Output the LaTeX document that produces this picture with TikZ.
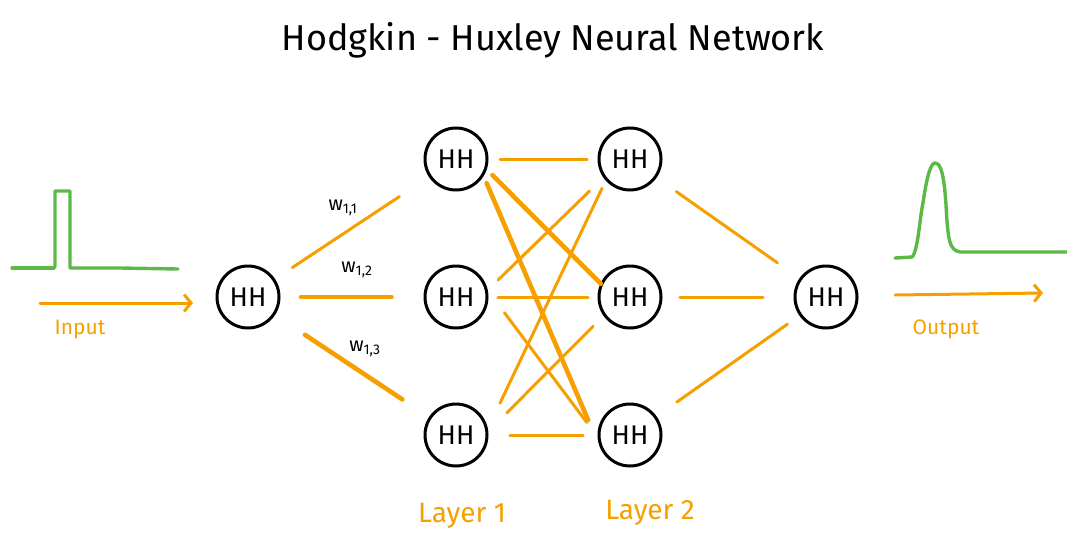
\documentclass[tikz,border=0pt]{standalone}
\usepackage{fontspec}
\setmainfont{Fira Sans}
\usetikzlibrary{calc,arrows.meta}
\definecolor{org}{HTML}{F5A000}
\definecolor{grn}{HTML}{5CB946}
\tikzset{
  hh/.style={circle,draw=black,line width=3pt,minimum size=62pt,inner sep=0pt,font=\fontsize{27}{27}\selectfont},
  conn/.style={draw=org,line width=3pt,line cap=round},
  thick conn/.style={draw=org,line width=4.6pt,line cap=round},
  sig/.style={draw=grn,line width=3.4pt,line cap=round,line join=round},
  lbl/.style={text=org,font=\fontsize{21}{21}\selectfont},
  wlbl/.style={text=black,font=\fontsize{20}{20}\selectfont},
  arr/.style={draw=org,line width=3pt,line cap=round,-{Straight Barb[length=7pt,width=17pt,line width=3pt]}}
}
\begin{document}
\begin{tikzpicture}[x=1pt,y=-1pt]
\useasboundingbox (0,0) rectangle (1067,535);
% title
\node (title) at (553,40) {\fontsize{36}{36}\selectfont Hodgkin - Huxley Neural Network};
% nodes
\node[hh] (in0) at (248,297) {HH};
\node[hh] (l11) at (456,159) {HH};
\node[hh] (l12) at (456,297) {HH};
\node[hh] (l13) at (456,435) {HH};
\node[hh] (l21) at (630,159) {HH};
\node[hh] (l22) at (630,297) {HH};
\node[hh] (l23) at (630,435) {HH};
\node[hh] (out) at (826,297) {HH};
% input -> layer 1
\draw[conn] ($(in0)!0.213!(l11)$) -- ($(in0)!0.728!(l11)$);
\draw[thick conn] ($(in0)!0.255!(l12)$) -- ($(in0)!0.69!(l12)$);
\draw[thick conn] ($(in0)!0.274!(l13)$) -- ($(in0)!0.742!(l13)$);
% layer1 -> layer2
\draw[conn] ($(l11)!0.253!(l21)$) -- ($(l11)!0.753!(l21)$);
\draw[thick conn] ($(l11)!0.175!(l22)+(6,-8)$) -- ($(l11)!0.861!(l22)+(-5,6)$);
\draw[thick conn] ($(l11)!0.113!(l23)+(11,-7)$) -- ($(l11)!0.892!(l23)+(-23,15)$);
\draw[conn] ($(l12)!0.196!(l21)+(8,10)$) -- ($(l12)!0.767!(l21)$);
\draw[conn] ($(l12)!0.241!(l22)$) -- ($(l12)!0.759!(l22)$);
\draw[conn] ($(l12)!0.215!(l23)+(11,-14)$) -- ($(l12)!0.815!(l23)+(-11,13)$);
\draw[conn] ($(l13)!0.155!(l21)+(17,11)$) -- ($(l13)!0.879!(l21)+(-7,-4)$);
\draw[conn] ($(l13)!0.241!(l22)+(9,11)$) -- ($(l13)!0.788!(l22)$);
\draw[conn] ($(l13)!0.31!(l23)$) -- ($(l13)!0.73!(l23)$);
% layer2 -> output
\draw[conn] ($(l21)!0.236!(out)$) -- ($(l21)!0.752!(out)$);
\draw[conn] ($(l22)!0.255!(out)$) -- ($(l22)!0.679!(out)$);
\draw[conn] ($(l23)!0.239!(out)$) -- ($(l23)!0.803!(out)$);
% weight labels
\node[wlbl] (w11) at (343,208) {w\textsubscript{1,1}};
\node[wlbl] (w12) at (357,270) {w\textsubscript{1,2}};
\node[wlbl] (w13) at (365,349) {w\textsubscript{1,3}};
% input signal
\draw[sig] (12,268) -- (54,268);
\draw[sig] (55,267) -- (55,191) -- (70,191) -- (70,268) -- (120,268) -- (178,269);
\coordinate (ia) at (40,303);
\coordinate (ib) at (193,303);
\draw[arr] (ia) -- (ib);
\node[lbl] (inlbl) at (80,329) {Input};
% output signal
\draw[sig] (895,258) -- (912,257) .. controls (918,252) and (920,215) .. (923,203)
  .. controls (927,175) and (931,163) .. (935,163)
  .. controls (941,163) and (944,175) .. (946,205)
  .. controls (948,240) and (949,250) .. (960,252) -- (1067,252);
\coordinate (oa) at (895,295);
\coordinate (ob) at (1043,293);
\draw[arr] (oa) -- (ob);
\node[lbl] (outlbl) at (946,329) {Output};
% layer labels
\node[lbl,font=\fontsize{28}{28}\selectfont] (lay1) at (462,516) {Layer 1};
\node[lbl,font=\fontsize{28}{28}\selectfont] (lay2) at (650,513) {Layer 2};
\end{tikzpicture}
\end{document}
